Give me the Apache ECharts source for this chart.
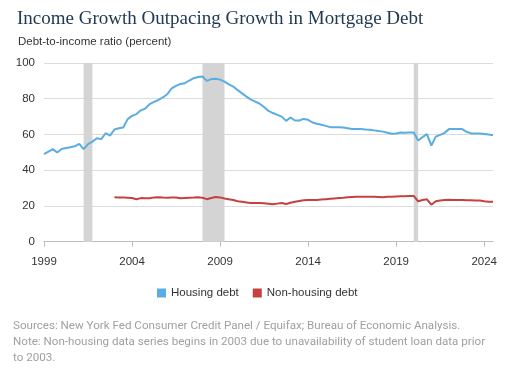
<!DOCTYPE html>
<html>
<head>
<meta charset="utf-8">
<style>html,body{margin:0;padding:0;background:#fff;}#c{width:512px;height:383px;}</style>
<script src="https://cdn.jsdelivr.net/npm/echarts@6/dist/echarts.min.js"></script>
</head>
<body>
<div id="c"></div>
<script>
// Quarterly, 1999 Q1 .. 2024 Q3
const startYear = 1999;
const quarterCount = 103;
const housingDebt = [
  49.0, 50.4, 51.8, 49.9,
  51.9, 52.4, 52.9, 53.4,
  54.7, 51.8, 54.6, 56.0,
  57.9, 57.4, 60.7, 59.4,
  62.8, 63.5, 63.9, 68.6,
  70.4, 71.4, 73.5, 74.5,
  77.0, 78.2, 79.4, 80.7,
  82.5, 85.8, 87.2, 88.3,
  88.7, 90.2, 91.5, 92.2,
  92.4, 90.0, 91.0, 91.2,
  90.7, 89.6, 88.0, 86.8,
  84.8, 83.0, 81.2, 79.5,
  78.4, 77.2, 75.4, 73.2,
  72.0, 71.0, 70.0, 67.6,
  69.5, 67.8, 67.8, 68.7,
  68.2, 66.7, 66.0, 65.4,
  64.8, 64.1, 64.1, 64.0,
  63.9, 63.5, 63.1, 63.1,
  63.1, 62.8, 62.6, 62.3,
  61.9, 61.6, 61.0, 60.4,
  60.6, 61.1, 61.0, 61.1,
  61.1, 56.6, 58.5, 60.2,
  53.8, 58.8, 59.8, 60.9,
  63.0, 63.0, 63.0, 63.0,
  61.5, 60.6, 60.6, 60.5,
  60.3, 60.0, 59.6
];
// begins 2003 Q1
const nonHousingStartIndex = 16;
const nonHousingDebt = [
  24.9, 24.8, 24.7, 24.6,
  24.5, 23.8, 24.4, 24.3,
  24.3, 24.8, 24.9, 24.7,
  24.6, 24.7, 24.7, 24.3,
  24.5, 24.6, 24.7, 24.9,
  24.6, 23.8, 24.5, 25.0,
  24.8, 24.2, 23.7, 23.3,
  22.6, 22.3, 22.0, 21.7,
  21.6, 21.6, 21.5, 21.2,
  20.9, 21.3, 21.7, 21.1,
  21.8, 22.4, 22.8, 23.2,
  23.3, 23.3, 23.4, 23.6,
  23.8, 24.0, 24.2, 24.4,
  24.6, 24.9, 25.0, 25.1,
  25.2, 25.2, 25.2, 25.1,
  25.0, 24.9, 25.1, 25.2,
  25.3, 25.4, 25.5, 25.6,
  25.6, 22.6, 23.3, 23.7,
  20.7, 22.6, 23.0, 23.3,
  23.5, 23.4, 23.3, 23.3,
  23.2, 23.2, 23.1, 23.0,
  22.6, 22.4, 22.4
];
const recessions = [["2001 Q2", "2001 Q4"], ["2008 Q1", "2009 Q2"], ["2020 Q1", "2020 Q2"]];
const seriesNames = ["Housing debt", "Non-housing debt"];
const titleText = "Income Growth Outpacing Growth in Mortgage Debt";
const yAxisTitle = "Debt-to-income ratio (percent)";
const notes = [
  "Sources: New York Fed Consumer Credit Panel / Equifax; Bureau of Economic Analysis.",
  "Note: Non-housing data series begins in 2003 due to unavailability of student loan data prior",
  "to 2003."
];

const categories = [];
for (let i = 0; i < quarterCount; i++) {
  categories.push((startYear + Math.floor(i / 4)) + " Q" + (i % 4 + 1));
}
const nonHousingFull = categories.map((c, i) =>
  i < nonHousingStartIndex ? null : nonHousingDebt[i - nonHousingStartIndex]);

const chart = echarts.init(document.getElementById('c'), null, {renderer: 'canvas'});
const tickEvery = (idx) => idx % 20 === 0;

chart.setOption({
  animation: false,
  backgroundColor: '#fff',
  title: [
    {text: titleText, left: 12, top: 5,
     textStyle: {fontFamily: 'Liberation Serif', fontSize: 19, fontWeight: 'normal', color: '#213a52'}},
    {text: yAxisTitle, left: 13, top: 31,
     textStyle: {fontFamily: 'Liberation Sans', fontSize: 11.5, fontWeight: 'normal', color: '#333'}}
  ],
  graphic: notes.map((t, k) => ({
    type: 'text', left: 13, top: 320 + k * 16,
    style: {text: t, fill: '#a0a0a0', font: '11.6px Roboto'}
  })),
  legend: {
    data: seriesNames.map(n => ({name: n, icon: 'rect'})),
    left: 152, top: 282, itemWidth: 9, itemHeight: 9, itemGap: 14,
    textStyle: {fontFamily: 'Liberation Sans', fontSize: 11.5, color: '#333'}
  },
  grid: {left: 44, right: 19, top: 63, bottom: 141.3, containLabel: false},
  xAxis: {
    type: 'category', data: categories, boundaryGap: false,
    axisLine: {lineStyle: {color: '#bdbdbd', width: 1}},
    axisTick: {interval: tickEvery, length: 5, lineStyle: {color: '#bdbdbd'}},
    axisLabel: {interval: tickEvery, formatter: v => v.slice(0, 4), margin: 14,
      fontFamily: 'Liberation Sans', fontSize: 11.5, color: '#333'},
    splitLine: {show: false}
  },
  yAxis: {
    type: 'value', min: 0, max: 100, interval: 20,
    axisLine: {show: false}, axisTick: {show: false},
    axisLabel: {margin: 9, fontFamily: 'Liberation Sans', fontSize: 11.5, color: '#333'},
    splitLine: {lineStyle: {color: '#dcdcdc', width: 1}}
  },
  series: [
    {
      name: seriesNames[0], type: 'line', data: housingDebt, showSymbol: false,
      lineStyle: {color: '#5aade2', width: 2}, itemStyle: {color: '#5aade2'}, z: 3,
      markArea: {silent: true, itemStyle: {color: '#d4d4d4'}, z: 1,
        data: recessions.map(r => [{xAxis: r[0]}, {xAxis: r[1]}])}
    },
    {
      name: seriesNames[1], type: 'line', data: nonHousingFull, showSymbol: false,
      lineStyle: {color: '#c4413f', width: 2}, itemStyle: {color: '#c4413f'}, z: 3
    }
  ]
});
</script>
</body>
</html>
